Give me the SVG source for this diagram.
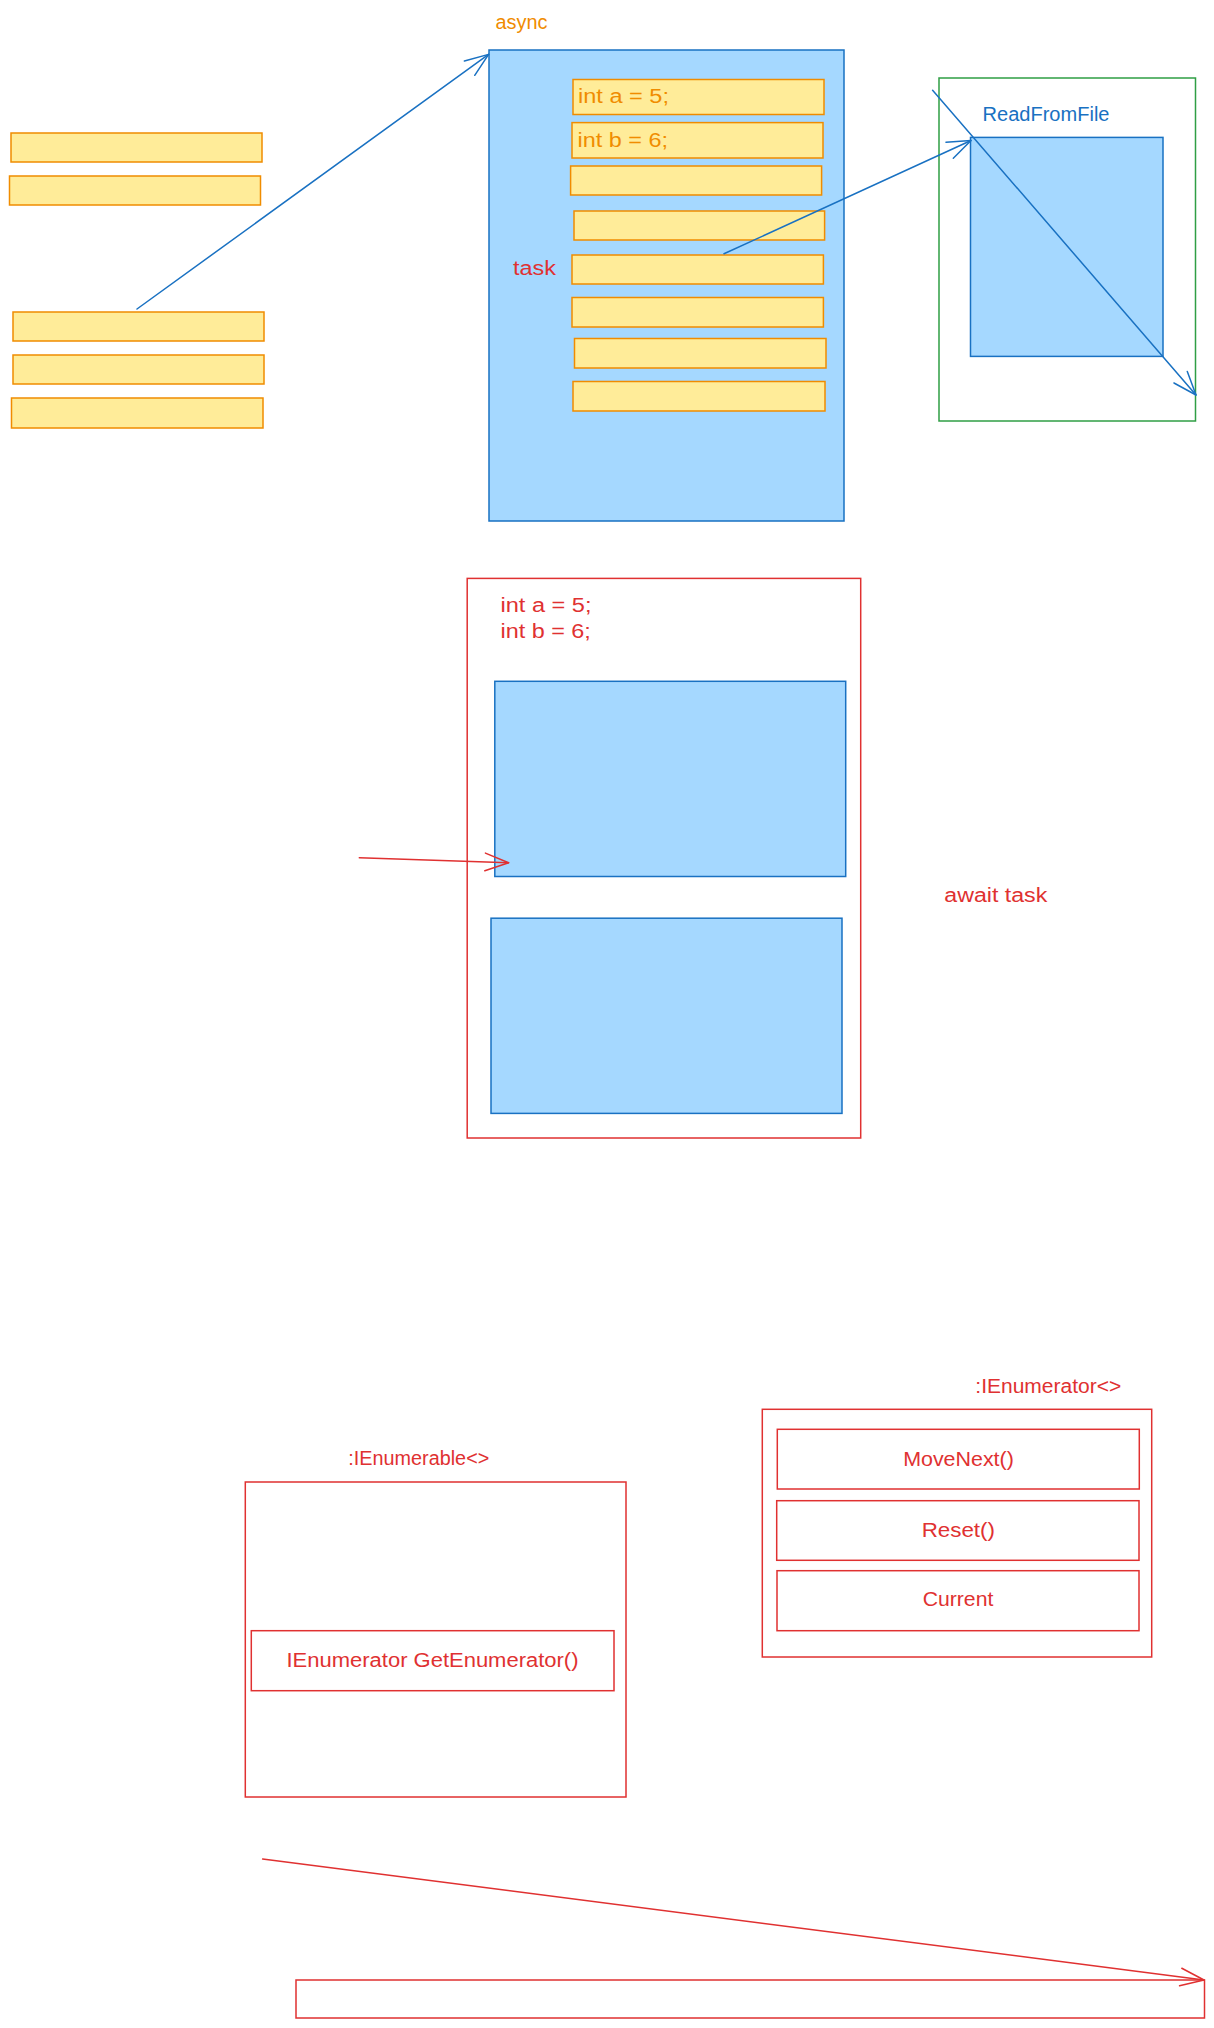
<svg xmlns="http://www.w3.org/2000/svg" width="1214" height="2028" viewBox="0 0 1214 2028">
  <style>
    .bg { fill: #ffffff; }
    .yel { fill: #ffec99; stroke: #f08c00; stroke-width: 1.5; }
    .blu { fill: #a5d8ff; stroke: #1971c2; stroke-width: 1.5; }
    .grn { fill: none; stroke: #2f9e44; stroke-width: 1.5; }
    .red { fill: none; stroke: #e03131; stroke-width: 1.5; }
    .t { font-family: "Liberation Sans", "DejaVu Sans", sans-serif; font-size: 20px; }
    .to { fill: #f08c00; }
    .tr { fill: #e03131; }
    .tb { fill: #1971c2; }
    .cb { fill: none; stroke: #1971c2; stroke-width: 1.5; stroke-linecap: round; }
    .cr { fill: none; stroke: #e03131; stroke-width: 1.5; stroke-linecap: round; }
  </style>
  <defs>
    <marker id="ab" viewBox="-26 -12 28 24" refX="0" refY="0" markerWidth="28" markerHeight="24" markerUnits="userSpaceOnUse" orient="auto">
      <path d="M -23.5 -8.8 L 0 0 L -23.5 8.8" fill="none" stroke="#1971c2" stroke-width="1.5" stroke-linecap="round" stroke-linejoin="round"/>
    </marker>
    <marker id="ar" viewBox="-26 -12 28 24" refX="0" refY="0" markerWidth="28" markerHeight="24" markerUnits="userSpaceOnUse" orient="auto">
      <path d="M -23.5 -8.8 L 0 0 L -23.5 8.8" fill="none" stroke="#e03131" stroke-width="1.5" stroke-linecap="round" stroke-linejoin="round"/>
    </marker>
  </defs>
  <rect class="bg" x="0" y="0" width="1214" height="2028"/>

  <!-- left yellow bars -->
  <g id="left-bar-1"><rect class="yel" x="11" y="133" width="251" height="29"/></g>
  <g id="left-bar-2"><rect class="yel" x="9.5" y="176" width="251" height="29"/></g>
  <g id="left-bar-3"><rect class="yel" x="13" y="312" width="251" height="29"/></g>
  <g id="left-bar-4"><rect class="yel" x="13" y="355" width="251" height="29"/></g>
  <g id="left-bar-5"><rect class="yel" x="11.5" y="398" width="251.5" height="30"/></g>

  <!-- async block -->
  <g id="async-label"><text class="t to" x="495.5" y="29" textLength="52" lengthAdjust="spacingAndGlyphs">async</text></g>
  <g id="async-block"><rect class="blu" x="489" y="50" width="355" height="471"/></g>
  <g id="task-label"><text class="t tr" x="513" y="275" textLength="43" lengthAdjust="spacingAndGlyphs">task</text></g>
  <g id="bar-a">
    <rect class="yel" x="573" y="79.5" width="251" height="35"/>
    <text class="t to" x="578" y="103" textLength="91" lengthAdjust="spacingAndGlyphs">int a = 5;</text>
  </g>
  <g id="bar-b">
    <rect class="yel" x="572" y="122.6" width="251" height="35.4"/>
    <text class="t to" x="577.6" y="146.5" textLength="90.5" lengthAdjust="spacingAndGlyphs">int b = 6;</text>
  </g>
  <g id="bar-3"><rect class="yel" x="570.6" y="166" width="251" height="29"/></g>
  <g id="bar-4"><rect class="yel" x="574" y="211" width="250.6" height="29"/></g>
  <g id="bar-5"><rect class="yel" x="572" y="255" width="251.4" height="29"/></g>
  <g id="bar-6"><rect class="yel" x="572" y="297.5" width="251.4" height="29.5"/></g>
  <g id="bar-7"><rect class="yel" x="574.5" y="338.5" width="251.5" height="29.5"/></g>
  <g id="bar-8"><rect class="yel" x="573" y="381.5" width="252" height="29.5"/></g>

  <!-- ReadFromFile -->
  <g id="file-frame"><rect class="grn" x="939" y="78" width="256.5" height="343"/></g>
  <g id="readfromfile-label"><text class="t tb" x="982.5" y="120.5" textLength="127" lengthAdjust="spacingAndGlyphs">ReadFromFile</text></g>
  <g id="readfromfile-block"><rect class="blu" x="970.5" y="137.4" width="192.5" height="219"/></g>

  <!-- middle section -->
  <g id="await-frame">
    <rect class="red" x="467.2" y="578.4" width="393.5" height="559.6"/>
    <text class="t tr" x="500.5" y="612.4" textLength="91" lengthAdjust="spacingAndGlyphs">int a = 5;</text>
    <text class="t tr" x="500.5" y="637.7" textLength="90.3" lengthAdjust="spacingAndGlyphs">int b = 6;</text>
  </g>
  <g id="await-block-1"><rect class="blu" x="494.8" y="681.3" width="350.9" height="195.2"/></g>
  <g id="await-block-2"><rect class="blu" x="491" y="918.2" width="351" height="195.2"/></g>
  <g id="await-label"><text class="t tr" x="944.3" y="901.7" textLength="103" lengthAdjust="spacingAndGlyphs">await task</text></g>

  <!-- IEnumerable -->
  <g id="ienumerable">
    <text class="t tr" x="348.3" y="1465" textLength="141" lengthAdjust="spacingAndGlyphs">:IEnumerable&lt;&gt;</text>
    <rect class="red" x="245.3" y="1482" width="380.7" height="315"/>
  </g>
  <g id="getenumerator">
    <rect class="red" x="251.3" y="1630.7" width="362.7" height="60"/>
    <text class="t tr" x="432.5" y="1667" text-anchor="middle" textLength="292" lengthAdjust="spacingAndGlyphs">IEnumerator GetEnumerator()</text>
  </g>

  <!-- IEnumerator -->
  <g id="ienumerator">
    <text class="t tr" x="975.3" y="1393.3" textLength="146" lengthAdjust="spacingAndGlyphs">:IEnumerator&lt;&gt;</text>
    <rect class="red" x="762.3" y="1409.3" width="389.4" height="247.7"/>
  </g>
  <g id="movenext">
    <rect class="red" x="777.3" y="1429.3" width="362" height="59.7"/>
    <text class="t tr" x="958.5" y="1466" text-anchor="middle" textLength="110.7" lengthAdjust="spacingAndGlyphs">MoveNext()</text>
  </g>
  <g id="reset">
    <rect class="red" x="776.7" y="1500.7" width="362.3" height="59.6"/>
    <text class="t tr" x="958.3" y="1536.7" text-anchor="middle" textLength="73.3" lengthAdjust="spacingAndGlyphs">Reset()</text>
  </g>
  <g id="current">
    <rect class="red" x="777" y="1570.7" width="362" height="60"/>
    <text class="t tr" x="958" y="1606" text-anchor="middle" textLength="70.7" lengthAdjust="spacingAndGlyphs">Current</text>
  </g>

  <!-- bottom box -->
  <g id="bottom-box"><rect class="red" x="296" y="1980" width="908.5" height="38"/></g>

  <!-- connectors -->
  <g id="connectors">
    <line class="cb" x1="137" y1="309" x2="488.6" y2="54.4" marker-end="url(#ab)"/>
    <line class="cb" x1="724" y1="253.8" x2="971" y2="140.5" marker-end="url(#ab)"/>
    <line class="cb" x1="932.6" y1="90.2" x2="1196" y2="395" marker-end="url(#ab)"/>
    <line class="cr" x1="359.3" y1="857.7" x2="508.6" y2="862.7" marker-end="url(#ar)"/>
    <line class="cr" x1="262.6" y1="1859" x2="1204" y2="1980" marker-end="url(#ar)"/>
  </g>
</svg>
